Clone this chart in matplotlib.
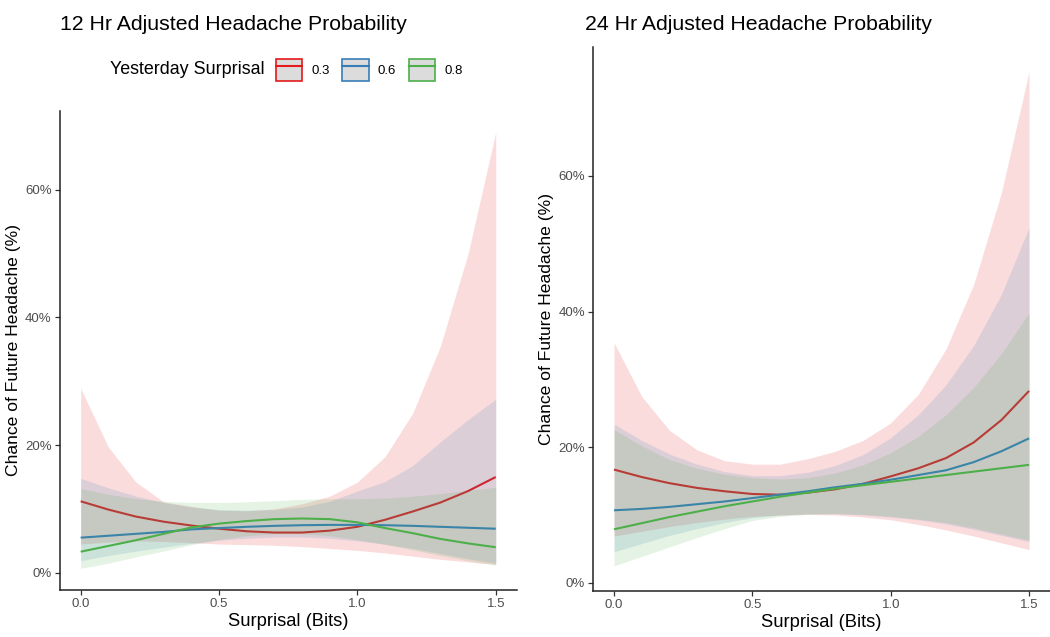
import matplotlib
matplotlib.use("Agg")
import matplotlib.pyplot as plt
from matplotlib.patches import Patch
from matplotlib.lines import Line2D
from matplotlib.ticker import FuncFormatter

plt.rcParams['font.family'] = ['Liberation Sans', 'DejaVu Sans']

x = [0.0, 0.1, 0.2, 0.3, 0.4, 0.5, 0.6, 0.7, 0.8, 0.9, 1.0, 1.1, 1.2, 1.3, 1.4, 1.5]
groups = ["0.3", "0.6", "0.8"]
colors = {"0.3": "#E41A1C", "0.6": "#377EB8", "0.8": "#4DAF4A"}

# 12 Hr panel (percent)
fit12 = {
    "0.3": [11.2, 9.9, 8.8, 8.0, 7.4, 6.9, 6.5, 6.3, 6.3, 6.6, 7.2, 8.3, 9.6, 11.0, 12.8, 15.0],
    "0.6": [5.5, 5.8, 6.1, 6.4, 6.8, 7.0, 7.2, 7.35, 7.45, 7.5, 7.5, 7.45, 7.35, 7.2, 7.05, 6.9],
    "0.8": [3.3, 4.2, 5.1, 6.1, 7.1, 7.7, 8.1, 8.4, 8.5, 8.4, 7.9, 7.0, 6.2, 5.3, 4.6, 4.0],
}
upper12 = {
    "0.3": [28.9, 19.7, 14.2, 11.1, 10.4, 9.8, 9.7, 10.0, 10.8, 12.0, 14.2, 18.2, 25.0, 35.5, 50.0, 69.0],
    "0.6": [14.8, 13.3, 12.0, 11.0, 10.3, 9.9, 9.8, 9.9, 10.3, 11.2, 12.8, 14.3, 16.8, 20.5, 24.0, 27.2],
    "0.8": [13.2, 12.3, 11.6, 11.2, 11.0, 11.0, 11.1, 11.3, 11.5, 11.6, 11.6, 11.7, 12.0, 12.4, 12.9, 13.4],
}
lower12 = {
    "0.3": [4.5, 4.8, 5.0, 4.9, 4.7, 4.5, 4.4, 4.3, 4.1, 3.8, 3.5, 3.1, 2.6, 2.1, 1.7, 1.3],
    "0.6": [1.9, 2.7, 3.4, 4.0, 4.6, 5.1, 5.4, 5.6, 5.6, 5.4, 5.0, 4.5, 3.8, 3.0, 2.2, 1.5],
    "0.8": [0.7, 1.5, 2.5, 3.4, 4.4, 5.2, 5.8, 6.1, 6.1, 5.8, 5.2, 4.4, 3.6, 2.7, 1.9, 1.2],
}

# 24 Hr panel (percent)
fit24 = {
    "0.3": [16.7, 15.6, 14.7, 14.0, 13.5, 13.1, 13.0, 13.3, 13.8, 14.6, 15.7, 16.9, 18.4, 20.7, 24.0, 28.3],
    "0.6": [10.7, 10.9, 11.2, 11.6, 12.0, 12.5, 13.0, 13.5, 14.1, 14.6, 15.2, 15.9, 16.6, 17.8, 19.4, 21.3],
    "0.8": [7.9, 8.8, 9.7, 10.5, 11.3, 12.0, 12.7, 13.3, 13.9, 14.4, 14.9, 15.4, 15.9, 16.4, 16.9, 17.4],
}
upper24 = {
    "0.3": [35.4, 27.5, 22.5, 19.6, 18.0, 17.5, 17.5, 18.3, 19.4, 21.0, 23.6, 27.8, 34.5, 44.0, 57.5, 75.4],
    "0.6": [23.4, 21.0, 19.0, 17.5, 16.4, 15.8, 15.8, 16.3, 17.3, 18.9, 21.4, 24.8, 29.2, 35.0, 42.5, 52.4],
    "0.8": [22.6, 20.2, 18.2, 16.9, 16.0, 15.5, 15.3, 15.5, 16.2, 17.4, 19.2, 21.6, 24.8, 28.8, 33.8, 39.8],
}
lower24 = {
    "0.3": [6.9, 7.6, 8.3, 8.9, 9.4, 9.8, 10.0, 10.1, 10.0, 9.7, 9.3, 8.6, 7.8, 6.9, 5.9, 4.9],
    "0.6": [4.6, 5.8, 7.0, 8.0, 8.9, 9.6, 10.0, 10.2, 10.2, 10.0, 9.7, 9.3, 8.7, 7.9, 7.0, 6.1],
    "0.8": [2.5, 3.9, 5.3, 6.7, 8.0, 9.2, 9.8, 10.1, 10.2, 10.1, 9.8, 9.4, 8.9, 8.1, 7.2, 6.3],
}

W, H = 1050, 637
fig = plt.figure(figsize=(W / 100, H / 100), dpi=100)

axL = fig.add_axes([59.9 / W, 1 - 590 / H, 456.6 / W, 479.4 / H])
axR = fig.add_axes([593.3 / W, 1 - 591 / H, 456.5 / W, 544 / H])

def draw(ax, fit, up, lo, ylim):
    z = 1
    for g in groups:
        c = colors[g]
        ax.fill_between(x, lo[g], up[g], color=c, alpha=0.15, linewidth=0, zorder=z)
        ax.plot(x, fit[g], color=c, linewidth=1.5, solid_capstyle='butt', zorder=z + 0.5)
        z += 1
    ax.set_xlim(-0.075, 1.575)
    ax.set_ylim(*ylim)
    ax.set_xticks([0.0, 0.5, 1.0, 1.5])
    ax.set_xticklabels(["0.0", "0.5", "1.0", "1.5"])
    ax.set_yticks([0, 20, 40, 60])
    ax.yaxis.set_major_formatter(FuncFormatter(lambda v, p: f"{int(v)}%"))
    for s in ["top", "right"]:
        ax.spines[s].set_visible(False)
    for s in ["left", "bottom"]:
        ax.spines[s].set_linewidth(1.1)
        ax.spines[s].set_color("#222222")
        ax.spines[s].set_zorder(10)
    ax.tick_params(axis="both", length=3.5, width=0.9, color="#333333",
                   labelsize=9.5, labelcolor="#4D4D4D", pad=2.5)
    ax.set_xlabel("Surprisal (Bits)", fontsize=13.2, labelpad=2)
    ax.set_ylabel("Chance of Future Headache (%)", fontsize=12.6, labelpad=3)

draw(axL, fit12, upper12, lower12, (-2.7, 72.4))
draw(axR, fit24, upper24, lower24, (-1.2, 79.0))

fig.text(60 / W, 1 - 25 / H, "12 Hr Adjusted Headache Probability", fontsize=15.3,
         ha="left", va="center")
fig.text(585 / W, 1 - 25 / H, "24 Hr Adjusted Headache Probability", fontsize=15.3,
         ha="left", va="center")

# legend
fig.text(110 / W, 1 - 70 / H, "Yesterday Surprisal", fontsize=12.9, ha="left", va="center")
handles = [(Patch(facecolor="#DCDCDC", edgecolor=colors[g], linewidth=1.2),
            Line2D([], [], color=colors[g], linewidth=1.5)) for g in groups]
fig.legend(handles, groups, ncol=3, loc="center left",
           bbox_to_anchor=(273 / W, 1 - 70 / H), frameon=False, fontsize=9.5,
           handlelength=2.0, handleheight=2.3, handletextpad=0.7,
           columnspacing=0.95, borderpad=0.2, borderaxespad=0)

fig.savefig("out.png", dpi=100)
